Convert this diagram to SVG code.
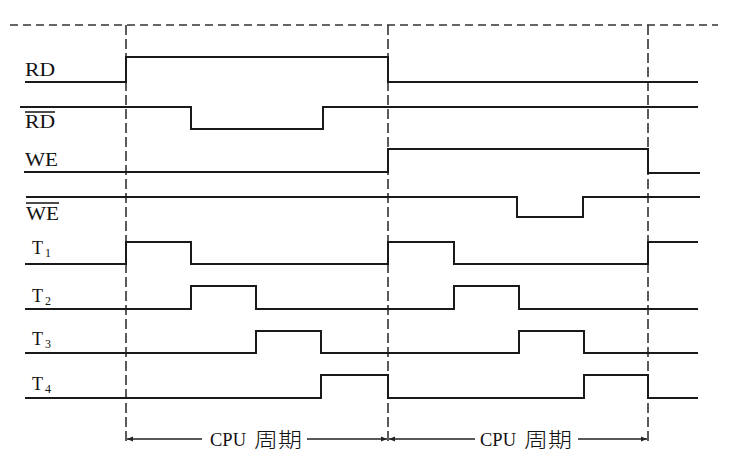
<svg xmlns="http://www.w3.org/2000/svg" width="741" height="467" viewBox="0 0 741 467">
<style>
.sig{fill:none;stroke:#1a1a1a;stroke-width:2;stroke-linejoin:miter}
.grid{fill:none;stroke:#333;stroke-width:1.6}
.lbl{font-family:"Liberation Serif","Times New Roman",serif;font-size:18px;fill:#111}
.sub{font-size:12px}
.cpu{font-family:"Liberation Serif","Times New Roman",serif;font-size:19px;fill:#111}
.cjk{font-family:"Noto Sans CJK SC","Noto Sans CJK JP",sans-serif;font-size:21px;font-weight:300;fill:#111}
.bar{stroke:#111;stroke-width:1.5}
.dim{stroke:#222;stroke-width:1.3;fill:none}
</style>
<defs>
<marker id="ah" viewBox="0 0 10 10" refX="10" refY="5" markerWidth="8" markerHeight="6" markerUnits="userSpaceOnUse" orient="auto-start-reverse">
<path d="M0,1 L10,5 L0,9 Z" fill="#222"/>
</marker>
</defs>
<rect width="741" height="467" fill="#fff"/>
<g id="grid">
<line class="grid" x1="10" y1="25" x2="718" y2="25" stroke-dasharray="8 5"/>
<line class="grid" x1="126" y1="25" x2="126" y2="444" stroke-dasharray="10 4"/>
<line class="grid" x1="388" y1="25" x2="388" y2="444" stroke-dasharray="10 4"/>
<line class="grid" x1="648" y1="25" x2="648" y2="444" stroke-dasharray="10 4"/>
</g>
<g id="RD">
<text class="lbl" x="25" y="76" textLength="30" lengthAdjust="spacingAndGlyphs">RD</text>
<path class="sig" d="M25,82 H126 V57 H388 V82 H698"/>
</g>
<g id="RD_bar">
<text class="lbl" x="25" y="128" textLength="30" lengthAdjust="spacingAndGlyphs">RD</text>
<line class="bar" x1="25" y1="112" x2="55" y2="112"/>
<path class="sig" d="M20,107 H191 V129 H323 V107 H698"/>
</g>
<g id="WE">
<text class="lbl" x="25" y="166" textLength="33" lengthAdjust="spacingAndGlyphs">WE</text>
<path class="sig" d="M24,172 H388 V149 H648 V173 H700"/>
</g>
<g id="WE_bar">
<text class="lbl" x="26" y="220" textLength="33" lengthAdjust="spacingAndGlyphs">WE</text>
<line class="bar" x1="26" y1="203" x2="59" y2="203"/>
<path class="sig" d="M26,197 H517 V217 H583 V197 H700"/>
</g>
<g id="T1">
<text class="lbl" x="32" y="254">T<tspan class="sub" dx="2" dy="3">1</tspan></text>
<path class="sig" d="M25,264 H126 V242 H191 V264 H388 V242 H454 V264 H648 V242 H698"/>
</g>
<g id="T2">
<text class="lbl" x="32" y="302">T<tspan class="sub" dx="2" dy="3">2</tspan></text>
<path class="sig" d="M25,309 H191 V286 H256 V309 H454 V286 H519 V309 H698"/>
</g>
<g id="T3">
<text class="lbl" x="32" y="345">T<tspan class="sub" dx="2" dy="3">3</tspan></text>
<path class="sig" d="M25,353 H256 V331 H321 V353 H519 V331 H584 V353 H698"/>
</g>
<g id="T4">
<text class="lbl" x="32" y="390">T<tspan class="sub" dx="2" dy="3">4</tspan></text>
<path class="sig" d="M25,398 H321 V375 H388 V398 H584 V375 H648 V398 H698"/>
</g>
<g id="connectors">
<line class="dim" x1="202" y1="439" x2="127" y2="439" marker-end="url(#ah)"/>
<line class="dim" x1="307" y1="439" x2="387" y2="439" marker-end="url(#ah)"/>
<line class="dim" x1="475" y1="439" x2="389" y2="439" marker-end="url(#ah)"/>
<line class="dim" x1="578" y1="439" x2="647" y2="439" marker-end="url(#ah)"/>
</g>
<g id="cycle1">
<text class="cpu" x="210" y="446" textLength="36" lengthAdjust="spacingAndGlyphs">CPU</text>
<text class="cjk" x="254" y="447" textLength="48" lengthAdjust="spacingAndGlyphs">周期</text>
</g>
<g id="cycle2">
<text class="cpu" x="480" y="446" textLength="36" lengthAdjust="spacingAndGlyphs">CPU</text>
<text class="cjk" x="524" y="447" textLength="48" lengthAdjust="spacingAndGlyphs">周期</text>
</g>
</svg>
